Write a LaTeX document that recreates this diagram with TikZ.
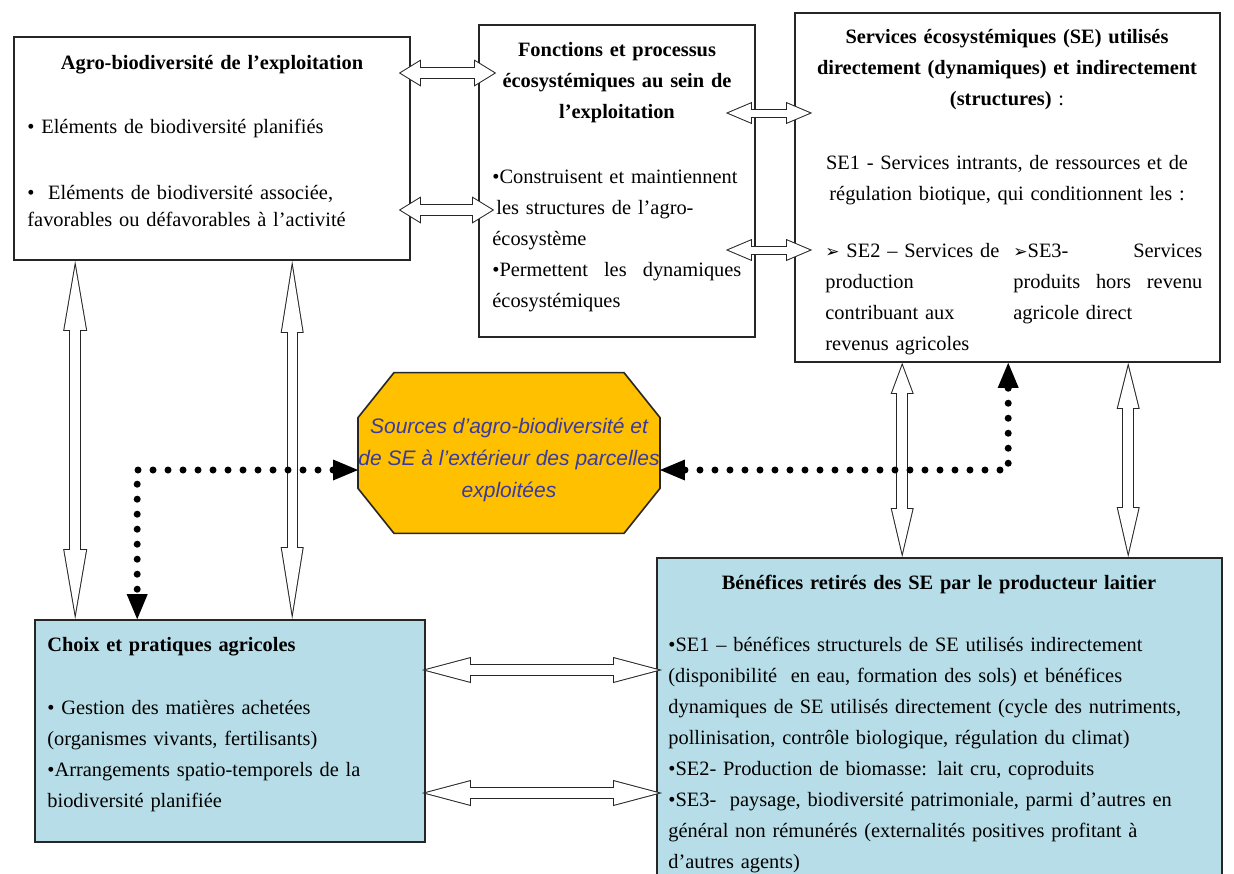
\documentclass[tikz,border=0pt]{standalone}
\usepackage{fontspec}
\setmainfont{Liberation Serif}
\newfontfamily\srcfont{Liberation Sans}
\newfontfamily\dingfont{DejaVu Sans}
\usepackage{xcolor}
\usetikzlibrary{arrows.meta,positioning,calc,backgrounds}
\definecolor{aqua}{RGB}{183,222,232}
\definecolor{gold}{RGB}{255,192,0}
\definecolor{srcblue}{RGB}{58,58,160}
\newcommand{\bodyfont}{\fontsize{10.2}{15.5}\selectfont}
\newcommand{\arrowbullet}{{\dingfont\fontsize{8.5}{8.5}\selectfont ➢}}

\begin{document}
\begin{tikzpicture}[
  x=0.5pt, y=-0.5pt,
  panel/.style={draw=black!85, line width=0.8pt, inner sep=0pt},
  ttl/.style={inner sep=0pt, anchor=base, align=center, text width=#1, font=\bodyfont\bfseries},
  txt/.style={inner sep=0pt, anchor=base west, align=left, text width=#1, font=\bodyfont},
  octo/.style={draw=black!85, line width=0.8pt, fill=gold},
  blkout/.style n args={4}{draw=black!85, line width=#4,
    {Triangle[length=#1 0 0, width=#3 0 0, line width=0pt 0 0]}-{Triangle[length=#2 0 0, width=#3 0 0, line width=0pt 0 0]}},
  dotarrow/.style={line width=3.5pt, line cap=round, dash pattern=on 0pt off 7.5pt,
    {Triangle[length=12.5pt 0 0, width=10.5pt 0 0, line width=0pt 0 0]}-{Triangle[length=12.5pt 0 0, width=10.5pt 0 0, line width=0pt 0 0]}}
]
\path[use as bounding box] (0,0) rectangle (1234,873);

% frames
\node[panel, minimum width=198pt, minimum height=111.5pt] (agro) at (212,148.5) {};
\node[panel, minimum width=138pt, minimum height=156pt] (fonct) at (617,181) {};
\node[panel, minimum width=212.5pt, minimum height=174.5pt] (serv) at (1007.5,187.5) {};
\node[panel, fill=aqua, minimum width=282.5pt, minimum height=171pt] (benef) at (939.5,729) {};
\node[panel, fill=aqua, minimum width=195pt, minimum height=111pt] (choix) at (230,731) {};
\node[inner sep=0pt, minimum width=148pt, minimum height=80pt, align=center, text=srcblue,
      font=\srcfont\itshape\fontsize{10.5}{16}\selectfont] (src) at (509,460)
  {Sources d’agro-biodiversité et\\de SE à l’extérieur des parcelles\\exploitées};

\begin{pgfonlayer}{background}
\fill[white] (0,0) rectangle (1234,873);
% octagon behind the sources text
\draw[octo] ([shift={(36,-7)}]src.north west) -- ([shift={(-36,-7)}]src.north east)
  -- ([shift={(0,38)}]src.north east) -- ([shift={(0,-52)}]src.south east)
  -- ([shift={(-36,-7)}]src.south east) -- ([shift={(36,-7)}]src.south west)
  -- ([shift={(0,-52)}]src.south west) -- ([shift={(0,38)}]src.north west) -- cycle;
\end{pgfonlayer}

% texts
\node[ttl=190pt] (agroT) at (212,69) {Agro-biodiversité de l’exploitation};
\node[txt=190pt] (agroB1) at (27,133) {• Eléments de biodiversité planifiés};
\node[txt=190pt, font=\fontsize{10.2}{13.5}\selectfont] (agroB2) at (27,199)
  {•\ \ Eléments de biodiversité associée,\\favorables ou défavorables à l’activité};

\node[ttl=134pt] (fonctT) at (617,56) {Fonctions et processus\\écosystémiques au sein de\\l’exploitation};
\node[txt=150pt] (fonctB) at (492,183)
  {•Construisent et maintiennent\\\hspace*{2pt}les structures de l’agro-\\écosystème\\
   \makebox[124.5pt]{•Permettent\hfill les\hfill dynamiques}\\écosystémiques};

\node[ttl=212pt] (servT) at (1007,43)
  {Services écosystémiques (SE) utilisés\\directement (dynamiques) et indirectement\\(structures) {\mdseries :}};
\node[ttl=212pt, font=\bodyfont] (servS) at (1007,169)
  {SE1 - Services intrants, de ressources et de\\régulation biotique, qui conditionnent les :};
\node[txt=100pt] (servL) at (825,257)
  {\arrowbullet{} SE2 – Services de\\production\\contribuant aux\\revenus agricoles};
\node[txt=100pt] (servR) at (1013,257)
  {\makebox[94.5pt]{\arrowbullet SE3-\hfill Services}\\\makebox[94.5pt]{produits\hfill hors\hfill revenu}\\agricole direct};

\node[ttl=280pt] (benefT) at (939,589) {Bénéfices retirés des SE par le producteur laitier};
\node[txt=300pt] (benefB) at (668,651)
  {•SE1 – bénéfices structurels de SE utilisés indirectement\\
   (disponibilité\ \ en eau, formation des sols) et bénéfices\\
   dynamiques de SE utilisés directement (cycle des nutriments,\\
   pollinisation, contrôle biologique, régulation du climat)\\
   •SE2- Production de biomasse: lait cru, coproduits\\
   •SE3-\ \ paysage, biodiversité patrimoniale, parmi d’autres en\\
   général non rémunérés (externalités positives profitant à\\
   d’autres agents)};

\node[txt=185pt, font=\bodyfont\bfseries] (choixT) at (47,651) {Choix et pratiques agricoles};
\node[txt=190pt] (choixB) at (47,714)
  {• Gestion des matières achetées\\(organismes vivants, fertilisants)\\
   •Arrangements spatio-temporels de la\\biodiversité planifiée};

% ends of the hollow arrows
\coordinate (a1s) at ($(agro.east |- 0,73)+(-12,0)$);
\coordinate (a1e) at ($(fonct.west |- 0,73)+(18,0)$);
\coordinate (a2s) at ($(agro.east |- 0,210)+(-12,0)$);
\coordinate (a2e) at ($(fonct.west |- 0,210)+(16,0)$);
\coordinate (a3s) at ($(fonct.east |- 0,113)+(-30,0)$);
\coordinate (a3e) at ($(serv.west |- 0,113)+(18,0)$);
\coordinate (a4s) at ($(fonct.east |- 0,250)+(-30,0)$);
\coordinate (a4e) at ($(serv.west |- 0,250)+(18,0)$);
\coordinate (v1s) at ($(agro.south west)+(62,0)$);
\coordinate (v1e) at ($(choix.north west)+(41,0)$);
\coordinate (v2s) at ($(agro.south west)+(279,0)$);
\coordinate (v2e) at ($(choix.north west)+(258,0)$);
\coordinate (v3s) at ($(serv.south west)+(108,0)$);
\coordinate (v3e) at ($(benef.north west)+(246,0)$);
\coordinate (v4s) at ($(serv.south west)+(334,0)$);
\coordinate (v4e) at ($(benef.north west)+(472,0)$);
\coordinate (h1s) at ($(choix.east |- 0,670)+(-4,0)$);
\coordinate (h1e) at ($(benef.west |- 0,670)+(6,0)$);
\coordinate (h2s) at ($(choix.east |- 0,793)+(-4,0)$);
\coordinate (h2e) at ($(benef.west |- 0,793)+(6,0)$);

% hollow double arrows: black outline, then white inside
\foreach \p/\q/\ls/\le/\w/\s in {
    a1s/a1e/11/11/13.5/6, a2s/a2e/11/11/13.5/6,
    a3s/a3e/13/13/11/4.5, a4s/a4e/13/13/11/4.5,
    v1s/v1e/35/35/12/6, v2s/v2e/36/36/11.5/5.5,
    v3s/v3e/15.5/24.5/11.5/6, v4s/v4e/23/25/11.5/6,
    h1s/h1e/24.5/24.5/13/6, h2s/h2e/24.5/24.5/13/6}{
  \pgfmathsetmacro{\ks}{0.5*sqrt((\w/2)^2+\ls^2)/(\w/2)}
  \pgfmathsetmacro{\ke}{0.5*sqrt((\w/2)^2+\le^2)/(\w/2)}
  \pgfmathsetmacro{\lsi}{\ls-0.5-\ks}
  \pgfmathsetmacro{\lei}{\le-0.5-\ke}
  \pgfmathsetmacro{\wsi}{\w*\lsi/\ls}
  \pgfmathsetmacro{\wei}{\w*\lei/\le}
  \pgfmathsetmacro{\si}{\s-1}
  \draw[blkout={\ls pt}{\le pt}{\w pt}{\s pt}] (\p) -- (\q);
  \draw[white, line width=\si pt, shorten <=\ks pt, shorten >=\ke pt,
    {Triangle[length=\lsi pt 0 0, width=\wsi pt 0 0, line width=0pt 0 0]}-{Triangle[length=\lei pt 0 0, width=\wei pt 0 0, line width=0pt 0 0]}]
    (\p) -- (\q);
}

% dotted links to the outside sources
\draw[dotarrow] (src.west |- 0,470) -| ($(choix.north west)+(103,0)$);
\draw[dotarrow] (src.east |- 0,470) -| ($(serv.south west)+(214,0)$);
\end{tikzpicture}
\end{document}
